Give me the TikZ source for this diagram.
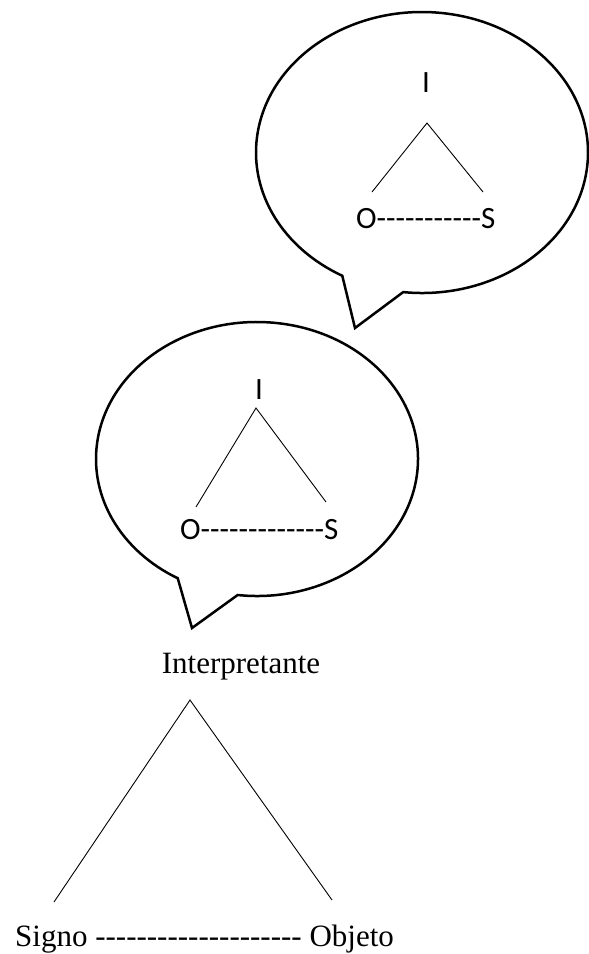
\documentclass[tikz,border=0pt]{standalone}
\usepackage{fontspec}
\setmainfont{Liberation Serif}[Ligatures=TeXOff]
\newfontfamily\calfont{Carlito}[Ligatures=TeXOff]
\begin{document}
\begin{tikzpicture}[x=1pt,y=-1pt,
  bubble/.style={draw=black,line width=2.5pt,line join=miter},
  leg/.style={draw=black,line width=0.9pt},
  sanslbl/.style={font=\calfont\fontsize{31}{36}\selectfont,inner sep=0pt},
  seriflbl/.style={font=\fontsize{31}{36}\selectfont,inner sep=0pt}]
\useasboundingbox (0,0) rectangle (589,954);

% ---------- top bubble ----------
\coordinate (tipA) at (355,328);
\draw[bubble] (422,152.5) ++(96.5:166 and 140.5)
  arc[start angle=96.5,end angle=-241.3,x radius=166,y radius=140.5]
  -- (tipA) -- cycle;
\node[sanslbl,anchor=base] (IA) at (426,92) {I};
\node[sanslbl,anchor=base west] (OSA) at (356,228) {O-----------S};
\coordinate (apA) at (427,123);
\coordinate (lA) at (372,192);
\coordinate (rA) at (483,192);
\draw[leg] (lA) -- (apA) -- (rA);

% ---------- middle bubble ----------
\coordinate (tipB) at (192,628);
\draw[bubble] (257,459) ++(96.9:161 and 137)
  arc[start angle=96.9,end angle=-240.5,x radius=161,y radius=137]
  -- (tipB) -- cycle;
\node[sanslbl,anchor=base] (IB) at (259,399) {I};
\node[sanslbl,anchor=base west] (OSB) at (180,539) {O-------------S};
\coordinate (apB) at (256,408);
\coordinate (lB) at (196,507);
\coordinate (rB) at (326,502);
\draw[leg] (lB) -- (apB) -- (rB);

% ---------- bottom triangle ----------
\node[seriflbl,anchor=base] (interp) at (241,673) {Interpretante};
\node[seriflbl,anchor=base west] (so) at (15,946) {Signo -------------------- Objeto};
\coordinate (apC) at (190,700);
\coordinate (lC) at (54,902);
\coordinate (rC) at (332,900);
\draw[leg] (lC) -- (apC) -- (rC);
\end{tikzpicture}
\end{document}
